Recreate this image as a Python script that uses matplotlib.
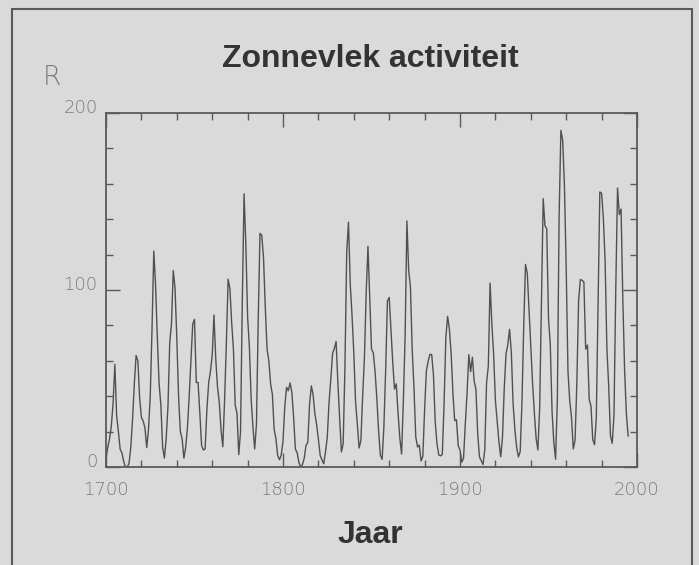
import matplotlib
matplotlib.use("Agg")
import matplotlib.pyplot as plt
from matplotlib.patches import Rectangle
from matplotlib.ticker import MultipleLocator
import numpy as np

# Yearly sunspot number (R), 1700-1995
years = list(range(1700, 1996))
sunspots = [
    5.0, 11.0, 16.0, 23.0, 36.0, 58.0, 29.0, 20.0, 10.0, 8.0,
    3.0, 0.0, 0.0, 2.0, 11.0, 27.0, 47.0, 63.0, 60.0, 39.0,
    28.0, 26.0, 22.0, 11.0, 21.0, 40.0, 78.0, 122.0, 103.0, 73.0,
    47.0, 35.0, 11.0, 5.0, 16.0, 34.0, 70.0, 81.0, 111.0, 101.0,
    73.0, 40.0, 20.0, 16.0, 5.0, 11.0, 22.0, 40.0, 60.0, 80.9,
    83.4, 47.7, 47.8, 30.7, 12.2, 9.6, 10.2, 32.4, 47.6, 54.0,
    62.9, 85.9, 61.2, 45.1, 36.4, 20.9, 11.4, 37.8, 69.8, 106.1,
    100.8, 81.6, 66.5, 34.8, 30.6, 7.0, 19.8, 92.5, 154.4, 125.9,
    84.8, 68.1, 38.5, 22.8, 10.2, 24.1, 82.9, 132.0, 130.9, 118.1,
    89.9, 66.6, 60.0, 46.9, 41.0, 21.3, 16.0, 6.4, 4.1, 6.8,
    14.5, 34.0, 45.0, 43.1, 47.5, 42.2, 28.1, 10.1, 8.1, 2.5,
    0.0, 1.4, 5.0, 12.2, 13.9, 35.4, 45.8, 41.0, 30.1, 23.9,
    15.6, 6.6, 4.0, 1.8, 8.5, 16.6, 36.3, 49.6, 64.2, 67.0,
    70.9, 47.8, 27.5, 8.5, 13.2, 56.9, 121.5, 138.3, 103.2, 85.7,
    64.6, 36.7, 24.2, 10.7, 15.0, 40.1, 61.5, 98.5, 124.7, 96.3,
    66.6, 64.5, 54.1, 39.0, 20.6, 6.7, 4.3, 22.7, 54.8, 93.8,
    95.8, 77.2, 59.1, 44.0, 47.0, 30.5, 16.3, 7.3, 37.6, 74.0,
    139.0, 111.2, 101.6, 66.2, 44.7, 17.0, 11.3, 12.4, 3.4, 6.0,
    32.3, 54.3, 59.7, 63.7, 63.5, 52.2, 25.4, 13.1, 6.8, 6.3,
    7.1, 35.6, 73.0, 85.1, 78.0, 64.0, 41.8, 26.2, 26.7, 12.1,
    9.5, 2.7, 5.0, 24.4, 42.0, 63.5, 53.8, 62.0, 48.5, 43.9,
    18.6, 5.7, 3.6, 1.4, 9.6, 47.4, 57.1, 103.9, 80.6, 63.6,
    37.6, 26.1, 14.2, 5.8, 16.7, 44.3, 63.9, 69.0, 77.8, 64.9,
    35.7, 21.2, 11.1, 5.7, 8.7, 36.1, 79.7, 114.4, 109.6, 88.8,
    67.8, 47.5, 30.6, 16.3, 9.6, 33.2, 92.6, 151.6, 136.3, 134.7,
    83.9, 69.4, 31.5, 13.9, 4.4, 38.0, 141.7, 190.2, 184.8, 159.0,
    112.3, 53.9, 37.5, 27.9, 10.2, 15.1, 47.0, 93.8, 105.9, 105.5,
    104.5, 66.6, 68.9, 38.0, 34.5, 15.5, 12.6, 27.5, 92.5, 155.4,
    154.6, 140.4, 115.9, 66.6, 45.9, 17.9, 13.4, 29.4, 100.2, 157.6,
    142.6, 145.7, 94.3, 54.6, 29.9, 17.5,
]

x_ticks = [1700, 1800, 1900, 2000]
x_tick_labels = ["1700", "1800", "1900", "2000"]
y_ticks = [0, 100, 200]
y_tick_labels = ["0", "100", "200"]

title = "Zonnevlek activiteit"
xlabel = "Jaar"
ylabel = "R"

W, H = 699, 565
bg = "#dadada"
fig = plt.figure(figsize=(W / 100, H / 100), dpi=100, facecolor=bg)

def fx(px):
    return px / W

def fy(py):
    return 1 - py / H

# outer frame of the scanned figure
fig.patches.append(Rectangle((fx(12), fy(575)), fx(692) - fx(12), fy(9) - fy(575),
                             transform=fig.transFigure, fill=False,
                             edgecolor="#5a5a5a", linewidth=1.5))

ax = fig.add_axes([fx(106), fy(467), fx(637) - fx(106), fy(113) - fy(467)])
ax.set_facecolor(bg)
ax.plot(years, sunspots, color="#505050", linewidth=1.0)

ax.set_xlim(1700, 2000)
ax.set_ylim(0, 200)
ax.set_xticks(x_ticks)
ax.set_xticklabels(x_tick_labels)
ax.set_yticks(y_ticks)
ax.set_yticklabels(y_tick_labels)
ax.xaxis.set_minor_locator(MultipleLocator(20))
ax.yaxis.set_minor_locator(MultipleLocator(20))

for s in ax.spines.values():
    s.set_color("#5a5a5a")
    s.set_linewidth(1.3)

ax.tick_params(which="both", direction="in", top=True, right=True,
               color="#5a5a5a", width=1.0)
ax.tick_params(which="major", length=10)
ax.tick_params(which="minor", length=5)
ax.tick_params(axis="x", which="major", pad=10)
ax.tick_params(axis="y", which="major", pad=6)
for lbl in ax.get_xticklabels() + ax.get_yticklabels():
    lbl.set_fontfamily("DejaVu Sans")
    lbl.set_fontsize(13)
    lbl.set_color("#7a7a7a")
    lbl.set_fontweight("light")
for lbl in ax.get_yticklabels():
    lbl.set_verticalalignment("baseline")

fig.text(fx(370), fy(67), title, ha="center", va="baseline",
         fontsize=23, fontweight="bold", family="Liberation Sans", color="#333333")
fig.text(fx(370), fy(543), xlabel, ha="center", va="baseline",
         fontsize=23, fontweight="bold", family="Liberation Sans", color="#333333")
fig.text(fx(43), fy(85), ylabel, ha="left", va="baseline",
         fontsize=19, fontweight="light", family="DejaVu Sans", color="#7a7a7a")

fig.savefig("out.png", dpi=100, facecolor=bg)
